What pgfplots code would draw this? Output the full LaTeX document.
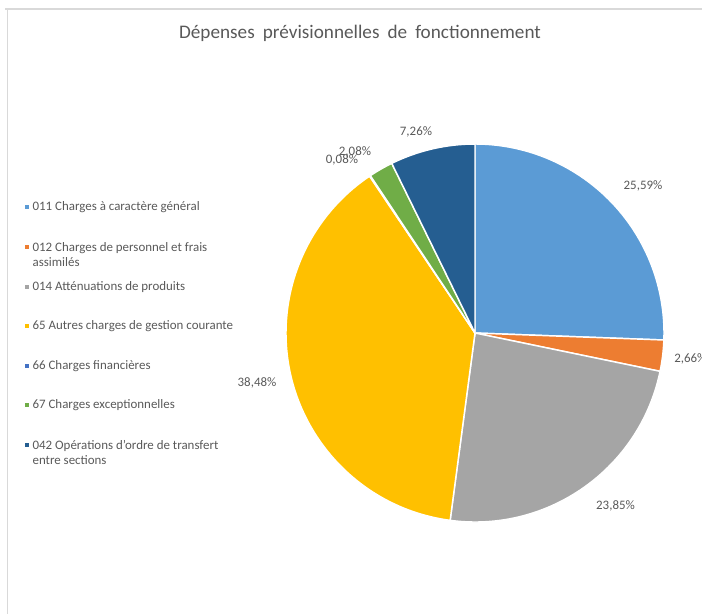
\documentclass[border=0pt]{standalone}
\usepackage{fontspec}
\setmainfont{Carlito}
\usepackage{pgfplots}
\pgfplotsset{compat=1.18}
\definecolor{cA}{HTML}{5B9BD5}
\definecolor{cB}{HTML}{ED7D31}
\definecolor{cC}{HTML}{A5A5A5}
\definecolor{cD}{HTML}{FFC000}
\definecolor{cE}{HTML}{4472C4}
\definecolor{cF}{HTML}{70AD47}
\definecolor{cG}{HTML}{255E91}
\definecolor{txt}{HTML}{595959}
\definecolor{frm}{HTML}{D9D9D9}
\newcommand{\R}{141.75pt}
% \slice{start percent}{value percent}{colour}
\newcommand{\slice}[3]{%
  \fill[#3, draw=white, line width=1.1pt] (axis cs:475,333) -- ++({90-3.6*#1}:\R)
    arc[start angle={90-3.6*#1}, end angle={90-3.6*(#1+#2)}, radius=\R] -- cycle;}
% \legitem{colour}{marker y}{text y}{text}
\newcommand{\legitem}[4]{%
  \fill[#1] (axis cs:{26.7-2},{#2-2}) rectangle (axis cs:{26.7+2},{#2+2});
  \node[anchor=west, inner sep=0pt, align=left, text=txt, font=\fontsize{9.7}{11.25}\selectfont] at (axis cs:32.3,#3) {#4};}
\newcommand{\titlefont}{\fontsize{14.4}{17}\selectfont\spaceskip=0.42em plus 0.1em\relax}
\begin{document}
\begin{tikzpicture}
\begin{axis}[
  scale only axis, width=526.5pt, height=460.5pt,
  xmin=0, xmax=702, ymin=0, ymax=614, y dir=reverse,
  hide axis, clip=false]
% frame
\draw[frm, line width=1.1pt] (axis cs:5,9) -- (axis cs:702,9);
\draw[frm, line width=1.1pt] (axis cs:7.5,9) -- (axis cs:7.5,614);
% title
\node[text=txt, font=\titlefont] at (axis cs:360,33.5) {Dépenses prévisionnelles de fonctionnement};
% slices: start (cumulative %), value (%)
\slice{0}{25.59}{cA}
\slice{25.59}{2.66}{cB}
\slice{28.25}{23.85}{cC}
\slice{52.10}{38.48}{cD}
\slice{90.58}{0.08}{cE}
\slice{90.66}{2.08}{cF}
\slice{92.74}{7.26}{cG}
% data labels
\begin{scope}[every node/.style={text=txt, font=\fontsize{9.7}{11}\selectfont, inner sep=0pt}]
\node at (axis cs:643,186) {25,59\%};
\node[anchor=west] at (axis cs:674,359) {2,66\%};
\node at (axis cs:615.5,506) {23,85\%};
\node at (axis cs:257,383) {38,48\%};
\node at (axis cs:342,160) {0,08\%};
\node at (axis cs:355,152) {2,08\%};
\node at (axis cs:416,132) {7,26\%};
\end{scope}
% legend
\legitem{cA}{207}{207}{011 Charges à caractère général}
\legitem{cB}{247}{254.5}{012 Charges de personnel et frais\\assimilés}
\legitem{cC}{287}{287}{014 Atténuations de produits}
\legitem{cD}{326}{326}{65 Autres charges de gestion courante}
\legitem{cE}{366}{366}{66 Charges financières}
\legitem{cF}{405}{405}{67 Charges exceptionnelles}
\legitem{cG}{445}{452.5}{042 Opérations d’ordre de transfert\\entre sections}
\end{axis}
\pgfresetboundingbox
\path (0,0) rectangle (526.5pt,460.5pt);
\end{tikzpicture}
\end{document}
